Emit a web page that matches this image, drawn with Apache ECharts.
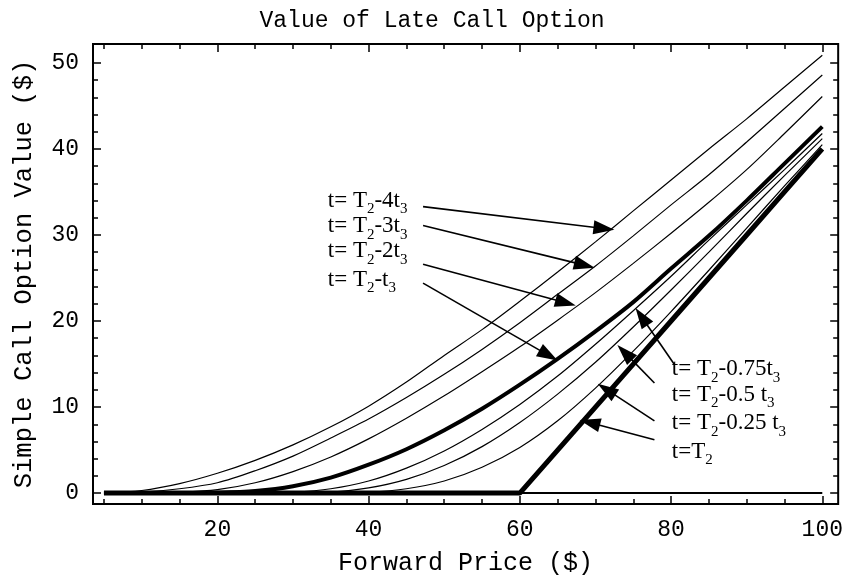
<!DOCTYPE html>
<html><head><meta charset="utf-8">
<script src="https://cdn.jsdelivr.net/npm/echarts@6/dist/echarts.min.js"></script>
<style>html,body{margin:0;padding:0;background:#fff}#c{width:846px;height:581px}</style>
</head><body><div id="c"></div>
<script>
// ---- data ----
const forward = [5,10,15,20,25,30,35,40,45,50,55,60,65,70,75,80,85,90,95,100];
const valT2m4t3   = [0, 0.3, 1.1, 2.3, 3.8, 5.6, 7.7, 10.1, 12.9, 16.0, 19.0, 22.3, 25.7, 29.2, 32.8, 36.4, 40.0, 43.5, 47.2, 50.9];
const valT2m3t3   = [0, 0.1, 0.5, 1.2, 2.6, 4.3, 6.4, 8.6, 11.1, 13.8, 16.7, 19.8, 23.1, 26.4, 29.9, 33.5, 37.0, 40.8, 44.7, 48.6];
const valT2m2t3   = [0, 0, 0.1, 0.4, 1.2, 2.5, 4.2, 6.3, 8.7, 11.3, 14.1, 17.0, 20.1, 23.3, 26.7, 30.2, 33.8, 37.6, 41.8, 46.1];
const valT2m1t3   = [0, 0, 0, 0.05, 0.25, 0.8, 1.8, 3.3, 5.1, 7.3, 9.8, 12.6, 15.6, 18.8, 22.2, 26.1, 29.9, 34.0, 38.3, 42.6];
const valT2m075t3 = [0, 0, 0, 0, 0, 0.1, 0.5, 1.4, 2.9, 4.9, 7.4, 10.3, 13.6, 17.3, 21.2, 25.2, 29.4, 33.5, 37.6, 41.8];
const valT2m05t3  = [0, 0, 0, 0, 0, 0, 0.1, 0.6, 1.6, 3.2, 5.4, 8.2, 11.5, 15.2, 19.3, 23.6, 28.0, 32.5, 36.9, 41.2];
const valT2m025t3 = [0, 0, 0, 0, 0, 0, 0, 0.1, 0.5, 1.4, 3.0, 5.3, 8.4, 12.2, 16.5, 21.1, 25.9, 30.8, 35.7, 40.5];
const valT2       = [0, 0, 0, 0, 0, 0, 0, 0, 0, 0, 0, 0, 5, 10, 15, 20, 25, 30, 35, 40];
const valZero     = [0, 0, 0, 0, 0, 0, 0, 0, 0, 0, 0, 0, 0, 0, 0, 0, 0, 0, 0, 0];

const xTickLabels = [20, 40, 60, 80, 100];
const xMinorTicks = [5,10,15,20,25,30,35,40,45,50,55,60,65,70,75,80,85,90,95,100];
const yTickLabels = [0, 10, 20, 30, 40, 50];
const yMinorTicks = [0,2,4,6,8,10,12,14,16,18,20,22,24,26,28,30,32,34,36,38,40,42,44,46,48,50];

const titleText = 'Value of Late Call Option';
const xName = 'Forward Price ($)';
const yName = 'Simple Call Option Value ($)';

// annotation texts (rich text: n = normal, s = subscript)
const annoTexts = [
  '{n|t= T}{s|2}{n|-4t}{s|3}',
  '{n|t= T}{s|2}{n|-3t}{s|3}',
  '{n|t= T}{s|2}{n|-2t}{s|3}',
  '{n|t= T}{s|2}{n|-t}{s|3}',
  '{n|t= T}{s|2}{n|-0.75t}{s|3}',
  '{n|t= T}{s|2}{n|-0.5 t}{s|3}',
  '{n|t= T}{s|2}{n|-0.25 t}{s|3}',
  '{n|t=T}{s|2}'
];
// annotation placement (data coordinates): label anchor, arrow start, arrow tip
const annoLayout = [
  {at:[34.6,34.0], from:[47.2,33.3], to:[72.5,30.6]},
  {at:[34.6,31.0], from:[47.2,31.1], to:[69.9,26.2]},
  {at:[34.6,28.1], from:[47.2,26.6], to:[67.4,21.8]},
  {at:[34.6,24.8], from:[47.2,24.4], to:[65.0,15.4]},
  {at:[80.1,14.4], from:[80.4,15.0], to:[75.3,21.5]},
  {at:[80.1,11.4], from:[77.8,12.8], to:[72.9,17.2]},
  {at:[80.1, 8.1], from:[77.8, 8.4], to:[70.3,12.7]},
  {at:[80.1, 4.8], from:[77.8, 6.2], to:[67.9, 8.5]}
];

const XMIN = 3.55, XMAX = 102.1, YMIN = -1.27, YMAX = 52.2;
const MONO = 'Liberation Mono';
const SERIF = 'Liberation Serif';

const pair = arr => forward.map((f, i) => [f, arr[i]]);

function xAx(pos, ticks, len, labels) {
  return {
    type: 'value', min: XMIN, max: XMAX, position: pos,
    axisLine: {show: false, onZero: false}, splitLine: {show: false},
    axisTick: {show: true, inside: true, length: len, customValues: ticks, lineStyle: {color: '#000', width: 1.5}},
    axisLabel: labels ? {show: true, customValues: xTickLabels, fontFamily: MONO, fontSize: 23, color: '#000', margin: 14} : {show: false}
  };
}
function yAx(pos, ticks, len, labels) {
  return {
    type: 'value', min: YMIN, max: YMAX, position: pos,
    axisLine: {show: false, onZero: false}, splitLine: {show: false},
    axisTick: {show: true, inside: true, length: len, customValues: ticks, lineStyle: {color: '#000', width: 1.5}},
    axisLabel: labels ? {show: true, customValues: yTickLabels, fontFamily: MONO, fontSize: 23, color: '#000', margin: 14} : {show: false}
  };
}

const xAxes = [
  Object.assign(xAx('bottom', xTickLabels, 8, true), {name: xName, nameLocation: 'middle', nameGap: 47,
    nameTextStyle: {fontFamily: MONO, fontSize: 25, color: '#000'}}),
  xAx('bottom', xMinorTicks, 5, false),
  xAx('top', xTickLabels, 8, false),
  xAx('top', xMinorTicks, 5, false)
];
const yAxes = [
  Object.assign(yAx('left', yTickLabels, 8, true), {name: yName, nameLocation: 'middle', nameGap: 56,
    nameTextStyle: {fontFamily: MONO, fontSize: 25.5, color: '#000'}}),
  yAx('left', yMinorTicks, 5, false),
  yAx('right', yTickLabels, 8, false),
  yAx('right', yMinorTicks, 5, false)
];

function lineSeries(name, arr, width, smooth) {
  return {
    name, type: 'line', xAxisIndex: 0, yAxisIndex: 0, data: pair(arr),
    showSymbol: false, smooth: smooth ? 0.3 : false,
    lineStyle: {color: '#000', width}, silent: true
  };
}

const chart = echarts.init(document.getElementById('c'), null, {renderer: 'canvas'});
chart.setOption({
  animation: false,
  backgroundColor: '#fff',
  title: {text: titleText, left: 427, top: 4, textAlign: 'center',
    textStyle: {fontFamily: MONO, fontSize: 23, fontWeight: 'normal', color: '#000'}},
  grid: {left: 93, top: 44, width: 750, height: 464, show: true, borderColor: '#000', borderWidth: 2, backgroundColor: 'transparent'},
  xAxis: xAxes,
  yAxis: yAxes,
  series: [
    lineSeries('zero', valZero, 2, false),
    lineSeries('T2-4t3', valT2m4t3, 1.2, true),
    lineSeries('T2-3t3', valT2m3t3, 1.2, true),
    lineSeries('T2-2t3', valT2m2t3, 1.2, true),
    lineSeries('T2-0.75t3', valT2m075t3, 1.2, true),
    lineSeries('T2-0.5t3', valT2m05t3, 1.2, true),
    lineSeries('T2-0.25t3', valT2m025t3, 1.2, true),
    lineSeries('T2-t3', valT2m1t3, 4, true),
    lineSeries('T2', valT2, 5, false)
  ]
});

// annotations: labels and arrows placed through the chart's own coordinate system
const rich = {
  n: {fontFamily: SERIF, fontSize: 23, lineHeight: 32, color: '#000'},
  s: {fontFamily: SERIF, fontSize: 15, color: '#000', verticalAlign: 'bottom'}
};
const graphics = [];
annoLayout.forEach((a, i) => {
  const p = chart.convertToPixel({gridIndex: 0}, a.at);
  const s = chart.convertToPixel({gridIndex: 0}, a.from);
  const t = chart.convertToPixel({gridIndex: 0}, a.to);
  graphics.push({type: 'text', x: p[0], y: p[1], silent: true,
    style: {text: annoTexts[i], rich, font: '23px ' + SERIF, fill: '#000', textVerticalAlign: 'middle', textAlign: 'left'}});
  const dx = t[0] - s[0], dy = t[1] - s[1];
  const L = Math.hypot(dx, dy), ux = dx / L, uy = dy / L;
  const headLen = 21, headHalf = 7;
  const bx = t[0] - ux * headLen, by = t[1] - uy * headLen;
  graphics.push({type: 'line', silent: true, shape: {x1: s[0], y1: s[1], x2: bx + ux * 2, y2: by + uy * 2},
    style: {stroke: '#000', lineWidth: 1.6}});
  graphics.push({type: 'polygon', silent: true,
    shape: {points: [[t[0], t[1]], [bx - uy * headHalf, by + ux * headHalf], [bx + uy * headHalf, by - ux * headHalf]]},
    style: {fill: '#000'}});
});
chart.setOption({graphic: graphics});
</script>
</body></html>
